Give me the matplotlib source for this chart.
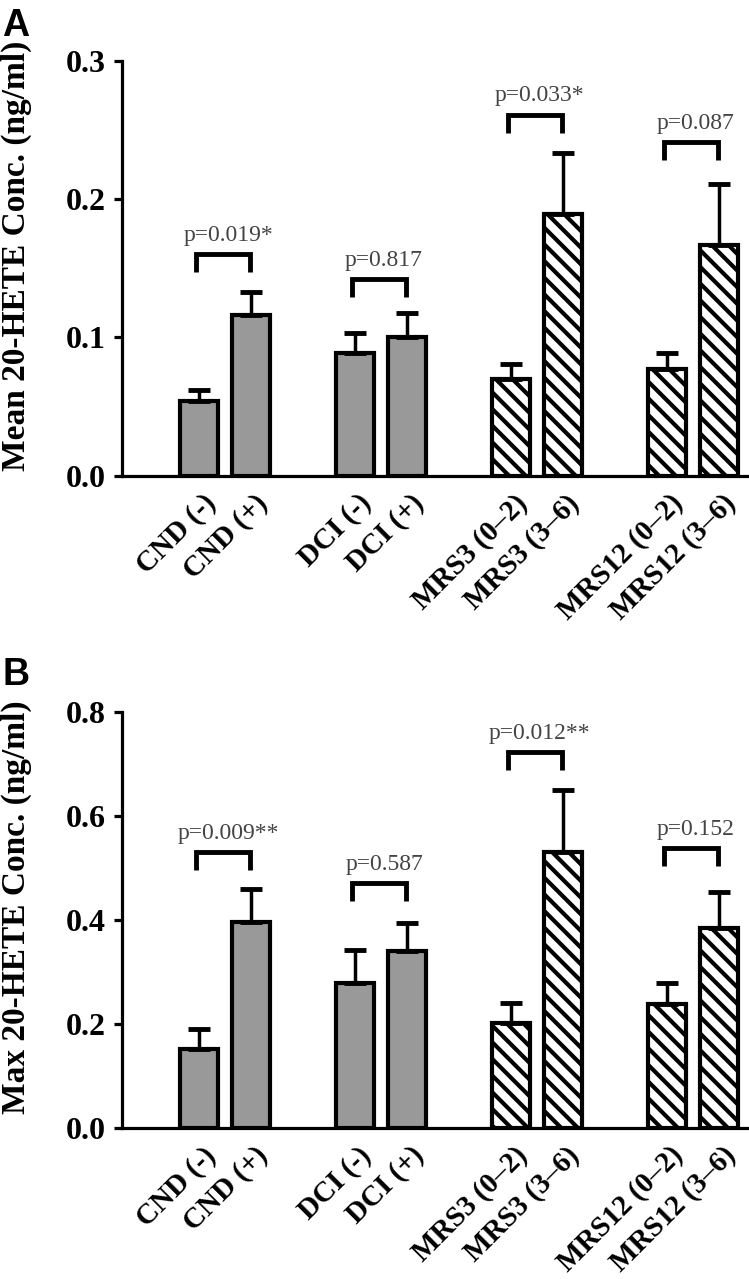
import numpy as np
import matplotlib
matplotlib.use('Agg')
import matplotlib.pyplot as plt
from matplotlib.transforms import ScaledTranslation

# data
groups = ['CND (-)', 'CND (+)', 'DCI (-)', 'DCI (+)',
          'MRS3 (0–2)', 'MRS3 (3–6)', 'MRS12 (0–2)', 'MRS12 (3–6)']
hatched = [False, False, False, False, True, True, True, True]

mean_vals = [0.054, 0.116, 0.089, 0.100, 0.070, 0.189, 0.077, 0.167]
mean_err = [0.008, 0.017, 0.014, 0.018, 0.011, 0.044, 0.012, 0.044]
mean_p = ['p=0.019*', 'p=0.817', 'p=0.033*', 'p=0.087']
mean_bracket = [0.160, 0.142, 0.261, 0.241]

max_vals = [0.152, 0.396, 0.279, 0.340, 0.202, 0.531, 0.238, 0.385]
max_err = [0.038, 0.064, 0.063, 0.054, 0.038, 0.119, 0.041, 0.069]
max_p = ['p=0.009**', 'p=0.587', 'p=0.012**', 'p=0.152']
max_bracket = [0.531, 0.471, 0.723, 0.538]

plt.rcParams['font.family'] = ['Liberation Serif', 'DejaVu Serif']
plt.rcParams['hatch.linewidth'] = 3.0
plt.rcParams['hatch.color'] = 'black'

pos = np.array([g * 3 + k for g in range(4) for k in range(2)])

fig = plt.figure(figsize=(7.49, 12.79), dpi=100)
axA = fig.add_axes([0.163, 0.628, 0.834, 0.3245])
axB = fig.add_axes([0.163, 0.118, 0.834, 0.3253])


def panel(ax, vals, err, pvals, brackets, ymax, step, ylabel, leg):
    for i in range(len(vals)):
        if hatched[i]:
            ax.bar(pos[i], vals[i], width=0.73, color='white', edgecolor='black',
                   hatch='\\\\', linewidth=3, zorder=2)
        else:
            ax.bar(pos[i], vals[i], width=0.73, color='#999999', edgecolor='black',
                   linewidth=3, zorder=2)
    ax.errorbar(pos, vals, yerr=[np.zeros(len(err)), err], fmt='none',
                ecolor='black', elinewidth=2.5, capsize=8, capthick=3.5, zorder=3)

    for g in range(4):
        x1 = pos[2 * g] - 0.06
        x2 = pos[2 * g + 1] - 0.02
        top = brackets[g]
        ax.plot([x1, x1, x2, x2], [top - leg, top, top, top - leg],
                color='black', lw=3.5, solid_capstyle='butt', solid_joinstyle='miter')
        ax.annotate(pvals[g], xy=((x1 + x2) / 2 + 0.1, top), xytext=(0, 6),
                    textcoords='offset points', ha='center', va='bottom',
                    fontsize=17, color='#444444')

    ax.set_xlim(-1.48, 10.54)
    ax.set_ylim(0, ymax)
    ticks = np.arange(0, ymax + step / 2, step)
    ax.set_yticks(ticks)
    ax.set_yticklabels(['%.1f' % t for t in ticks], fontsize=23, fontweight='bold')
    ax.spines['top'].set_visible(False)
    ax.spines['right'].set_visible(False)
    ax.spines['left'].set_linewidth(2.3)
    ax.spines['bottom'].set_linewidth(2.3)
    ax.tick_params(axis='y', length=6, width=2.3, pad=6)
    ax.tick_params(axis='x', length=0, pad=10)
    ax.set_xticks(pos)
    ax.set_xticklabels(groups, rotation=45, ha='right', va='top',
                       rotation_mode='anchor', fontsize=21, fontweight='bold')
    for lab in ax.get_xticklabels():
        lab.set_transform(lab.get_transform() + ScaledTranslation(0.03, 0, fig.dpi_scale_trans))
    ax.set_ylabel(ylabel, fontsize=24, fontweight='bold')
    ax.yaxis.set_label_coords(-0.145, 0.53)


panel(axA, mean_vals, mean_err, mean_p, mean_bracket, 0.3, 0.1,
      'Mean 20-HETE Conc. (ng/ml)', 0.013)
panel(axB, max_vals, max_err, max_p, max_bracket, 0.8, 0.2,
      'Max 20-HETE Conc. (ng/ml)', 0.035)

fig.text(0.003, 0.994, 'A', fontsize=27, fontweight='bold', family='Liberation Sans',
         ha='left', va='top')
fig.text(0.003, 0.486, 'B', fontsize=27, fontweight='bold', family='Liberation Sans',
         ha='left', va='top')

fig.savefig('out.png', dpi=100)
